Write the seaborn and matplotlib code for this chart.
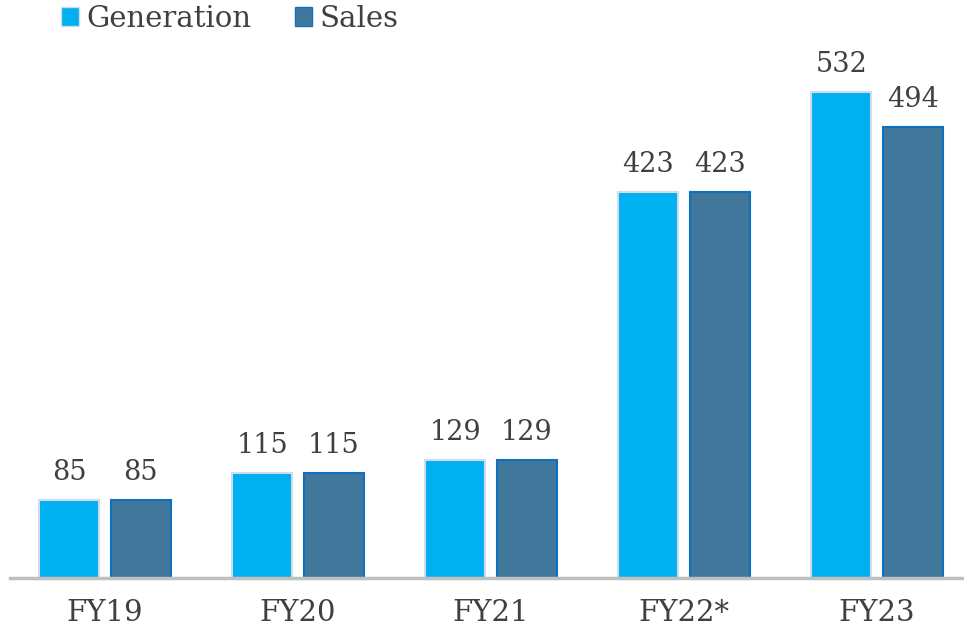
import numpy as np
import pandas as pd
import seaborn as sns
import matplotlib.pyplot as plt
from matplotlib.patches import Patch

years = ['FY19', 'FY20', 'FY21', 'FY22*', 'FY23']
generation = [85, 115, 129, 423, 532]
sales = [85, 115, 129, 423, 494]

sns.set_theme(style='white')
plt.rcParams['font.family'] = ['DejaVu Serif']

df = pd.DataFrame({'year': years * 2,
                   'value': generation + sales,
                   'series': ['Generation'] * 5 + ['Sales'] * 5})

fig = plt.figure(figsize=(9.64, 6.3), dpi=100)
ax = fig.add_axes([10 / 964, 52 / 630, 954 / 964, 578 / 630])

colors = {'Generation': '#00b0f0', 'Sales': '#41779b'}
edges = {'Generation': '#d0dcee', 'Sales': '#1070c0'}

sns.barplot(data=df, x='year', y='value', hue='series', palette=colors,
            width=0.74, gap=0.16, ax=ax, legend=False, saturation=1)

for container, name in zip(ax.containers, ['Generation', 'Sales']):
    for bar in container:
        bar.set_edgecolor(edges[name])
        bar.set_linewidth(1.5)
    ax.bar_label(container, padding=10, fontsize=19.5, color='#404040')

ax.set_xlim(-0.492, 4.45)
ax.set_ylim(0, 633)
sns.despine(ax=ax, left=True, top=True, right=True)
ax.spines['bottom'].set_color('#bfbfbf')
ax.spines['bottom'].set_linewidth(2.5)
ax.set_yticks([])
ax.set_xlabel('')
ax.set_ylabel('')
ax.tick_params(axis='x', length=0, pad=15, labelsize=21, labelcolor='#404040')

handles = [Patch(facecolor=colors[k], edgecolor=edges[k], label=k) for k in colors]
fig.legend(handles=handles, loc='upper left', bbox_to_anchor=(35 / 964, 1.034),
           ncol=2, frameon=False, fontsize=21, handlelength=0.6, handleheight=0.6,
           handletextpad=0.25, columnspacing=1.5, labelcolor='#404040')

fig.savefig('out.png', dpi=100)
